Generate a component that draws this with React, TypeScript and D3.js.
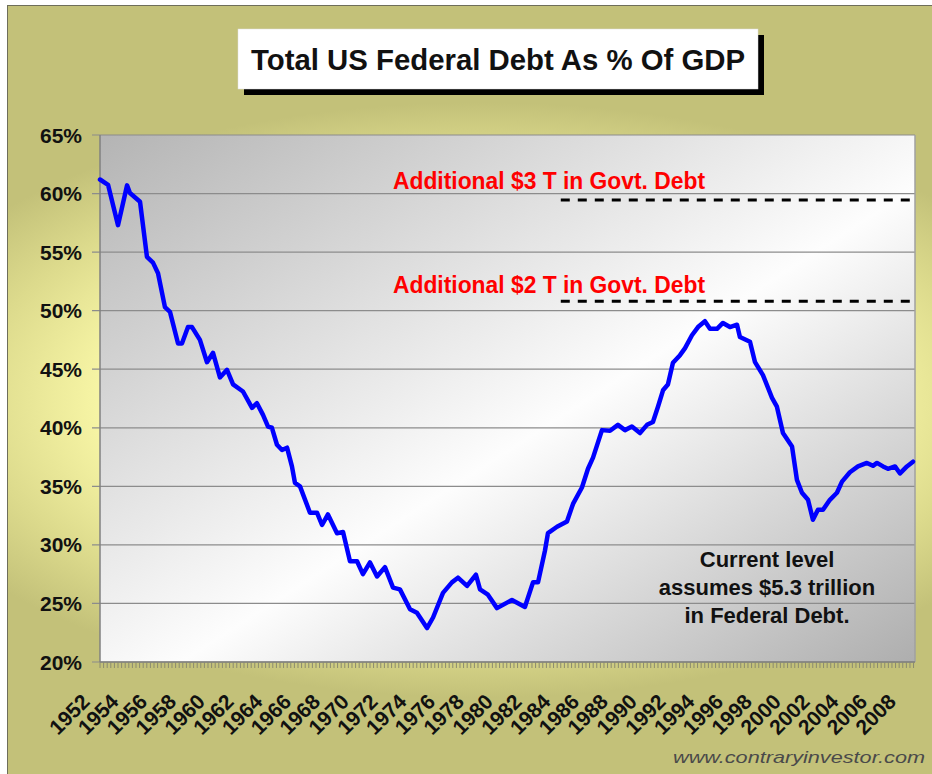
import React from "react";
import * as d3 from "d3";

// ---- data ----
const years: number[] = [
  1952.0, 1952.56, 1953.25, 1953.88, 1954.08, 1954.78, 1955.26, 1955.68, 1956.03, 1956.51,
  1956.86, 1957.42, 1957.69, 1958.11, 1958.39, 1958.94, 1959.43, 1959.85, 1960.33, 1960.82,
  1961.24, 1961.93, 1962.56, 1962.9, 1963.32, 1963.67, 1963.94, 1964.29, 1964.64, 1964.99,
  1965.33, 1965.54, 1965.89, 1966.58, 1967.07, 1967.42, 1967.83, 1968.46, 1968.88, 1969.36,
  1969.85, 1970.26, 1970.75, 1971.24, 1971.79, 1972.35, 1972.83, 1973.53, 1974.01, 1974.71,
  1975.13, 1975.82, 1976.44, 1976.86, 1977.49, 1978.11, 1978.39, 1978.94, 1979.57, 1980.61,
  1981.51, 1982.07, 1982.42, 1982.9, 1983.11, 1983.74, 1984.43, 1984.85, 1985.47, 1985.89,
  1986.24, 1986.86, 1987.42, 1987.97, 1988.46, 1988.94, 1989.5, 1989.99, 1990.4, 1990.75,
  1991.1, 1991.44, 1991.79, 1992.28, 1992.63, 1993.11, 1993.53, 1994.01, 1994.36, 1994.85,
  1995.26, 1995.75, 1996.24, 1996.44, 1997.14, 1997.49, 1998.04, 1998.67, 1999.01, 1999.43,
  2000.06, 2000.4, 2000.75, 2001.17, 2001.51, 2001.86, 2002.21, 2002.69, 2003.18, 2003.53,
  2004.08, 2004.64, 2005.26, 2005.68, 2005.96, 2006.38, 2006.72, 2007.21, 2007.56, 2008.04,
  2008.46,
];
const debtPct: number[] = [
  61.2, 60.75, 57.3, 60.7, 60.05, 59.3, 54.6, 54.1, 53.2, 50.3,
  49.9, 47.2, 47.2, 48.6, 48.6, 47.5, 45.6, 46.4, 44.3, 44.95,
  43.7, 43.1, 41.7, 42.1, 41.1, 40.1, 40.0, 38.55, 38.1, 38.3,
  36.7, 35.3, 35.0, 32.75, 32.75, 31.7, 32.6, 31.0, 31.1, 28.6,
  28.6, 27.5, 28.5, 27.3, 28.1, 26.35, 26.2, 24.5, 24.2, 22.9,
  23.8, 25.9, 26.8, 27.2, 26.5, 27.45, 26.2, 25.75, 24.6, 25.3,
  24.7, 26.8, 26.8, 29.5, 31.0, 31.55, 32.0, 33.5, 34.9, 36.5,
  37.45, 39.8, 39.75, 40.25, 39.8, 40.1, 39.55, 40.25, 40.5, 41.8,
  43.2, 43.7, 45.55, 46.2, 46.8, 47.9, 48.6, 49.1, 48.45, 48.45,
  48.95, 48.6, 48.8, 47.75, 47.35, 45.6, 44.5, 42.55, 41.8, 39.55,
  38.4, 35.55, 34.45, 33.85, 32.15, 33.0, 33.0, 33.85, 34.45, 35.4,
  36.2, 36.7, 37.0, 36.75, 37.0, 36.7, 36.5, 36.7, 36.1, 36.7,
  37.1,
];
const yTicks: number[] = [20, 25, 30, 35, 40, 45, 50, 55, 60, 65];
const xLabelYears: number[] = d3.range(1952, 2009, 2);
const dashedLevels: number[] = [59.45, 50.8];
const dashedStartYear = 1984.0;
const redNotes: string[] = ["Additional $3 T in Govt. Debt", "Additional $2 T in Govt. Debt"];
const redNoteLevels: number[] = [61.1, 52.2];
const noteLines: string[] = ["Current level", "assumes $5.3 trillion", "in Federal Debt."];
const title = "Total US Federal Debt As % Of GDP";
const source = "www.contraryinvestor.com";

const W = 932;
const H = 774;
const P = { left: 100, right: 915, top: 135, bottom: 662 };

export default function App() {
  const x = d3.scaleLinear().domain([1952, 2008.6]).range([P.left, P.right]);
  const y = d3.scaleLinear().domain([20, 65]).range([P.bottom, P.top]);
  const pts = years.map((yr, i) => [yr, debtPct[i]] as [number, number]);
  const line = d3
    .line<[number, number]>()
    .x((d) => x(d[0]))
    .y((d) => y(d[1]))
    .curve(d3.curveLinear);
  const minorTicks = d3.range(1952, 2008.6, 0.25);
  const font = "'Liberation Sans', Arial, Helvetica, sans-serif";

  return (
    <svg
      width={W}
      height={H}
      style={{ position: "absolute", left: 0, top: 0, display: "block" }}
      fontFamily={font}
    >
      <defs>
        <radialGradient
          id="frameGrad"
          gradientUnits="userSpaceOnUse"
          cx={480}
          cy={400}
          r={620}
          gradientTransform="translate(480 400) scale(1 0.48) translate(-480 -400)"
        >
          <stop offset="0" stopColor="#fefcb2" />
          <stop offset="0.62" stopColor="#f6f4a4" />
          <stop offset="0.82" stopColor="#dcda8c" />
          <stop offset="1" stopColor="#c3c179" />
        </radialGradient>
        <linearGradient id="plotGrad" x1="0" y1="0" x2="1" y2="1">
          <stop offset="0" stopColor="#b4b4b4" />
          <stop offset="0.55" stopColor="#fdfdfd" />
          <stop offset="1" stopColor="#aeaeae" />
        </linearGradient>
      </defs>

      <rect x={0} y={0} width={W} height={H} fill="#ffffff" />
      <rect x={7.5} y={5.5} width={W} height={H} fill="url(#frameGrad)" stroke="#6e6e5a" strokeWidth={1} />

      {/* title */}
      <rect x={244} y={35} width={520} height={60} fill="#000" />
      <rect x={238} y={29} width={520} height={60} fill="#fff" stroke="#ddd" strokeWidth={0.5} />
      <text x={498} y={70} textAnchor="middle" fontSize={30} fontWeight="bold" fill="#111"
        textLength={494} lengthAdjust="spacingAndGlyphs">
        {title}
      </text>

      {/* plot area */}
      <rect x={P.left} y={P.top} width={P.right - P.left} height={P.bottom - P.top} fill="url(#plotGrad)" />

      {yTicks.map((t) => (
        <g key={t}>
          <line x1={P.left - 8} x2={P.right} y1={y(t)} y2={y(t)} stroke="#8c8c8c" strokeWidth={1.2} />
          <text x={82} y={y(t) + 7.5} textAnchor="end" fontSize={21} fontWeight="bold" fill="#111">
            {t}%
          </text>
        </g>
      ))}
      <line x1={P.left} x2={P.left} y1={P.top} y2={P.bottom} stroke="#808080" strokeWidth={1.5} />
      <line x1={P.right} x2={P.right} y1={P.top} y2={P.bottom} stroke="#a0a0a0" strokeWidth={1.5} />
      <line x1={P.left} x2={P.right} y1={P.bottom} y2={P.bottom} stroke="#808080" strokeWidth={1.5} />
      {minorTicks.map((t, i) => (
        <line key={i} x1={x(t)} x2={x(t)} y1={P.bottom} y2={P.bottom + 6} stroke="#8a8a70" strokeWidth={1} />
      ))}

      {xLabelYears.map((yr) => (
        <text
          key={yr}
          transform={`translate(${x(yr) - 9},${703}) rotate(-45)`}
          textAnchor="end"
          fontSize={21}
          fontWeight="bold"
          fill="#111"
        >
          {yr}
        </text>
      ))}

      {/* dashed target levels */}
      {dashedLevels.map((lv, i) => (
        <line key={i} x1={x(dashedStartYear)} x2={P.right} y1={y(lv)} y2={y(lv)}
          stroke="#000" strokeWidth={3} strokeDasharray="9 8" />
      ))}
      {redNotes.map((s, i) => (
        <text key={i} x={393} y={y(redNoteLevels[i]) + 8} fontSize={24} fontWeight="bold" fill="#ff0000"
          textLength={312} lengthAdjust="spacingAndGlyphs">
          {s}
        </text>
      ))}

      {/* data line */}
      <path d={line(pts) || ""} fill="none" stroke="#0000ff" strokeWidth={4.5}
        strokeLinejoin="round" strokeLinecap="round" />

      {/* note */}
      {noteLines.map((s, i) => (
        <text key={i} x={767} y={567 + i * 28} textAnchor="middle" fontSize={22} fontWeight="bold" fill="#111">
          {s}
        </text>
      ))}

      <text x={925} y={763} textAnchor="end" fontSize={17} fontStyle="italic" fill="#4a4a4a"
        textLength={252} lengthAdjust="spacingAndGlyphs">
        {source}
      </text>
    </svg>
  );
}
